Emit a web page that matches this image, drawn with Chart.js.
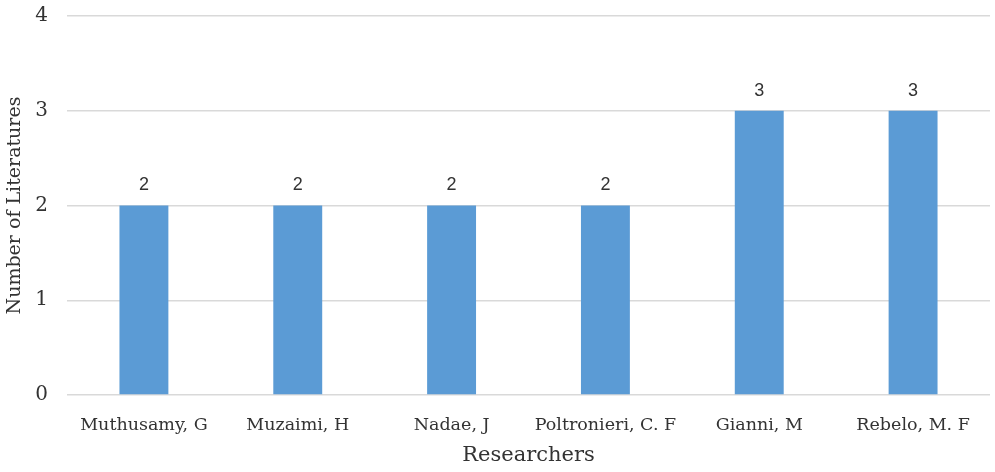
<!DOCTYPE html>
<html>
<head>
<meta charset="utf-8">
<script src="https://cdn.jsdelivr.net/npm/chart.js@4"></script>
<style>
  body { margin: 0; background: #fff; }
</style>
</head>
<body>
<canvas id="c" width="995" height="472"></canvas>
<script>
const researchers = ["Muthusamy, G", "Muzaimi, H", "Nadae, J", "Poltronieri, C. F", "Gianni, M", "Rebelo, M. F"];
const literatureCounts = [2, 2, 2, 2, 3, 3];

// value labels above bars (no datalabels plugin offline)
const barLabels = {
    id: "barLabels",
    afterDatasetsDraw(chart) {
        const ctx = chart.ctx;
        ctx.save();
        ctx.font = "18px 'Liberation Sans', Arial, sans-serif";
        ctx.fillStyle = "#333333";
        ctx.textAlign = "center";
        ctx.textBaseline = "bottom";
        chart.getDatasetMeta(0).data.forEach((bar, i) => {
            ctx.fillText(literatureCounts[i], bar.x, bar.y - 11);
        });
        ctx.restore();
    }
};

const serif = "'DejaVu Serif', 'Liberation Serif', serif";

new Chart(document.getElementById("c"), {
    type: "bar",
    data: {
        labels: researchers,
        datasets: [{
            data: literatureCounts,
            backgroundColor: "#5b9bd5",
            categoryPercentage: 1,
            barPercentage: 0.318
        }]
    },
    options: {
        responsive: false,
        animation: false,
        layout: { padding: { top: 16, right: 5, bottom: 0, left: 0 } },
        plugins: { legend: { display: false }, tooltip: { enabled: false } },
        scales: {
            x: {
                grid: { display: false },
                border: { display: false },
                ticks: { color: "#333333", font: { family: serif, size: 17.5 }, padding: 12, maxRotation: 0 },
                title: { display: true, text: "Researchers", color: "#333333", font: { family: serif, size: 21 }, padding: { top: 2 } },
                afterFit(scale) { scale.height = 77; scale.paddingLeft = 0; scale.paddingRight = 0; }
            },
            y: {
                min: 0,
                max: 4,
                ticks: { stepSize: 1, color: "#333333", font: { family: serif, size: 20 }, padding: 19 },
                grid: { color: "#d9d9d9", lineWidth: 1.5, drawTicks: false },
                border: { display: false },
                title: { display: true, text: "Number of Literatures", color: "#333333", font: { family: serif, size: 19 }, padding: { bottom: 0 } },
                afterFit(scale) { scale.width = 67; scale.paddingTop = 0; scale.paddingBottom = 0; }
            }
        }
    },
    plugins: [barLabels]
});
</script>
</body>
</html>
